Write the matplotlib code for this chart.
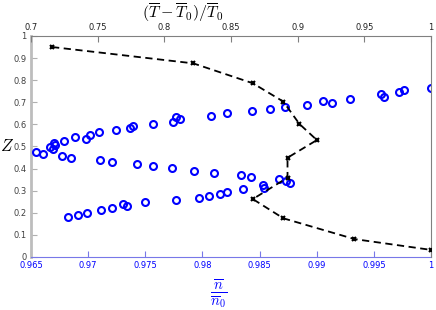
import numpy as np
import matplotlib
matplotlib.use("Agg")
import matplotlib.pyplot as plt
from matplotlib.ticker import FuncFormatter

plt.rcParams['mathtext.fontset'] = 'cm'
plt.rcParams['font.family'] = ['DejaVu Sans']

# blue circles, bottom axis n/n0
n_ratio = [0.96544, 0.96608, 0.96666, 0.96693, 0.96704, 0.96707, 0.96791, 0.96885,
           0.96984, 0.97019, 0.97095, 0.97241, 0.97369, 0.97393, 0.97570, 0.97743,
           0.97766, 0.97804, 0.98078, 0.98215, 0.98436, 0.98589, 0.98725, 0.98918,
           0.99052, 0.99131, 0.99291, 0.99563, 0.99586, 0.99717, 0.99758, 1.0,
           0.96771, 0.96853, 0.97106, 0.97211, 0.97425, 0.97570, 0.97731, 0.97924,
           0.98099, 0.98340, 0.98428, 0.98667, 0.98731, 0.98766,
           0.96826, 0.96911, 0.96993, 0.97115, 0.97209, 0.97305, 0.97337, 0.97500,
           0.97769, 0.97973, 0.98055, 0.98154, 0.98212, 0.98358, 0.98533, 0.98541]
z_circ = [0.4765, 0.4674, 0.4977, 0.4873, 0.5145, 0.5054, 0.5249, 0.5443,
          0.5353, 0.5534, 0.5643, 0.5733, 0.5837, 0.5928, 0.6018, 0.6122,
          0.6321, 0.6231, 0.6394, 0.6502, 0.6593, 0.6683, 0.6787, 0.6878,
          0.7072, 0.6982, 0.7163, 0.7362, 0.7253, 0.7452, 0.7557, 0.7661,
          0.4584, 0.4493, 0.4389, 0.4299, 0.4208, 0.4118, 0.4014, 0.3905,
          0.3814, 0.3724, 0.3633, 0.3543, 0.3439, 0.3348,
          0.1810, 0.1914, 0.2005, 0.2113, 0.2204, 0.2398, 0.2294, 0.2489,
          0.2579, 0.2670, 0.2774, 0.2864, 0.2955, 0.3063, 0.3258, 0.3136]

# black dashed curve, top axis (T-T0)/T0
t_ratio = [0.7158, 0.8217, 0.8663, 0.8892, 0.9012, 0.9143, 0.8923, 0.8923,
           0.8663, 0.8892, 0.9425, 1.0]
z_line = [0.950, 0.876, 0.786, 0.703, 0.602, 0.529, 0.449, 0.359,
          0.262, 0.175, 0.081, 0.032]

fmt = FuncFormatter(lambda v, p: '%g' % round(v, 4))

fig = plt.figure(figsize=(4.36, 3.10), dpi=100)
ax = fig.add_axes([0.071, 0.171, 0.918, 0.713])
ax.plot(n_ratio, z_circ, 'o', color='blue', markerfacecolor='none',
        markersize=5, markeredgewidth=1.5, zorder=3)
ax.set_xlim(0.965, 1.0)
ax.set_ylim(0, 1)
ax.set_xticks(np.arange(0.965, 1.0001, 0.005))
ax.set_yticks(np.arange(0, 1.0001, 0.1))
ax.xaxis.set_major_formatter(fmt)
ax.yaxis.set_major_formatter(fmt)
ax.tick_params(axis='x', direction='in', colors='#7878e8', labelcolor='blue',
               labelsize=6, length=4, pad=3)
ax.tick_params(axis='y', direction='in', colors='#b0b0b0', labelcolor='#404040',
               labelsize=6, length=4, pad=3)
ax.spines['bottom'].set_color('#7878e8')
ax.spines['left'].set_color('#bdbdbd')
ax.spines['left'].set_linewidth(2)
ax.spines['top'].set_visible(False)
ax.spines['right'].set_visible(False)
ax.set_xlabel(r'$\frac{\overline{n}}{\overline{n}_0}$', color='blue', fontsize=15)
ax.xaxis.set_label_coords(0.47, -0.09, transform=ax.transAxes)
ax.xaxis.label.set_va('top')
ax.set_ylabel(r'$Z$', fontsize=12, rotation=0, va='center', ha='center')
ax.yaxis.set_label_coords(-0.06, 0.5)

ax2 = ax.twiny()
ax2.plot(t_ratio, z_line, color='black', linestyle='--', dashes=(4, 2.5),
         marker='x', markersize=3.5, markeredgewidth=1.5, linewidth=1.3, zorder=4)
ax2.set_xlim(0.7, 1.0)
ax2.set_xticks(np.arange(0.7, 1.0001, 0.05))
ax2.xaxis.set_major_formatter(fmt)
ax2.tick_params(axis='x', direction='in', colors='#808080', labelcolor='#202020',
                labelsize=6, length=4, pad=3)
ax2.spines['top'].set_color('#808080')
ax2.spines['right'].set_color('#808080')
ax2.spines['bottom'].set_visible(False)
ax2.spines['left'].set_visible(False)
ax2.set_xlabel(r'$(\overline{T}-\overline{T}_0)/\overline{T}_0$', fontsize=11.5)
ax2.xaxis.label.set_va('center')
ax2.xaxis.set_label_coords(0.38, 1.108)

fig.savefig('out.png', dpi=100)
